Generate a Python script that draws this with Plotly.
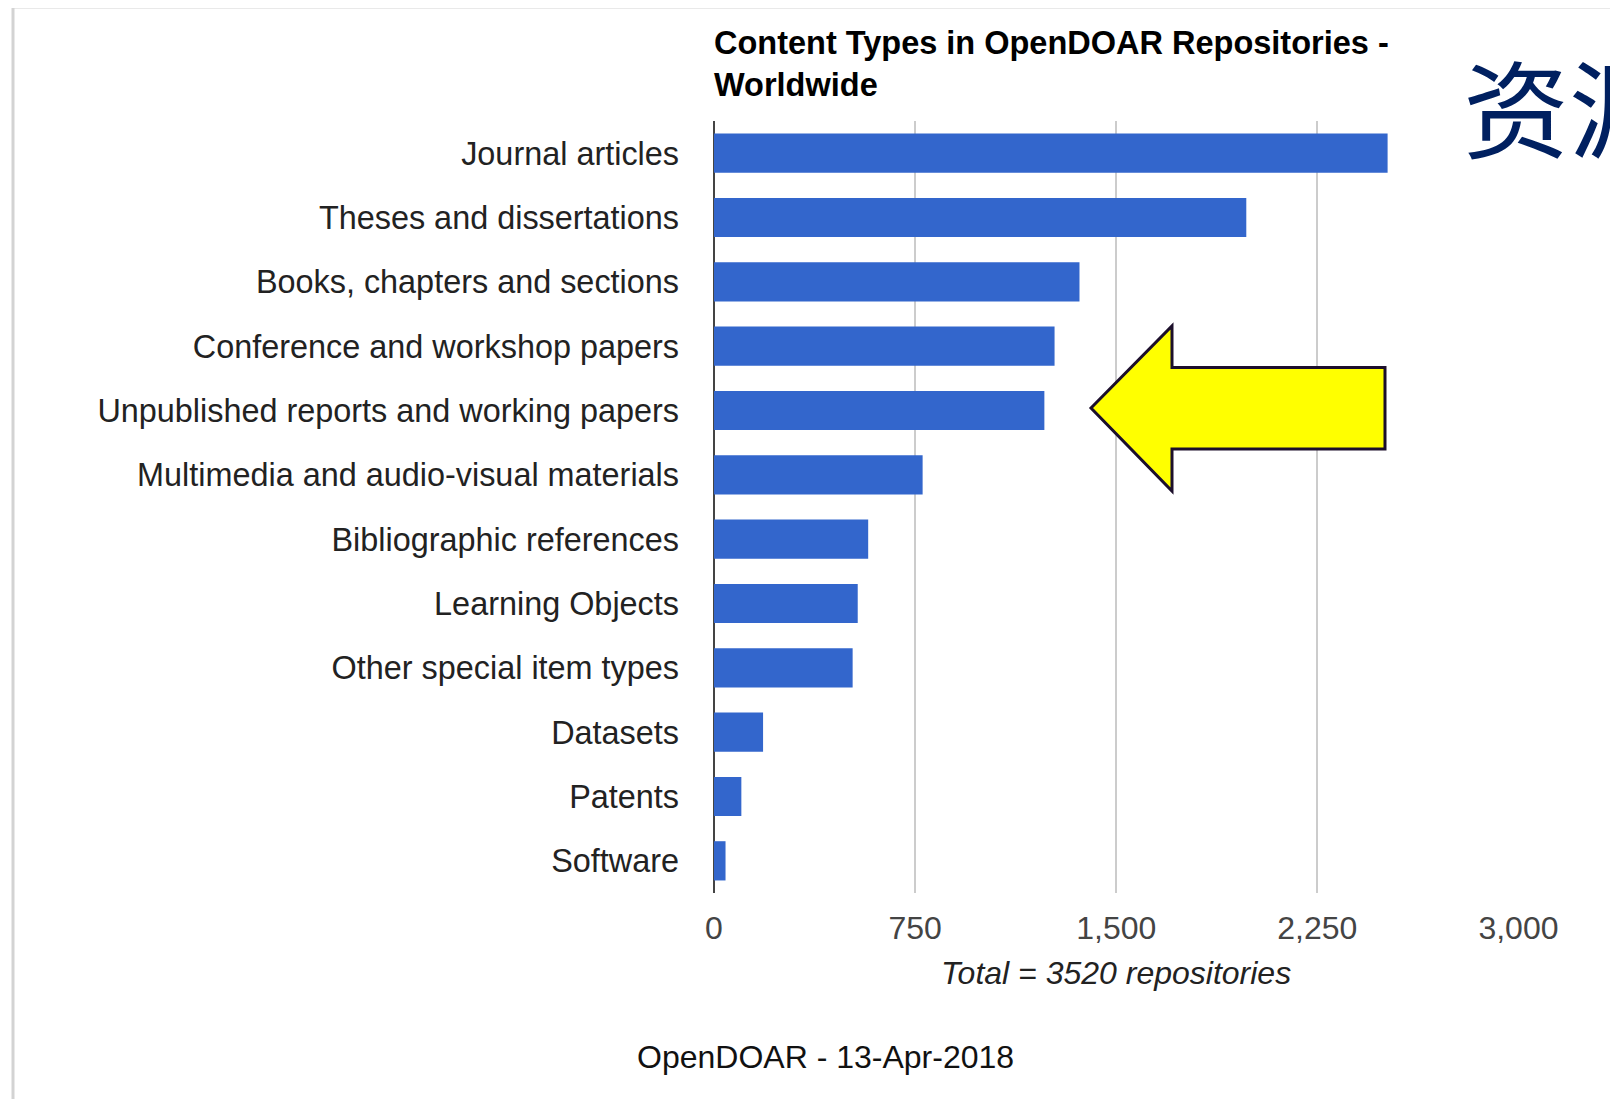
import plotly.graph_objects as go

categories = [
    "Journal articles",
    "Theses and dissertations",
    "Books, chapters and sections",
    "Conference and workshop papers",
    "Unpublished reports and working papers",
    "Multimedia and audio-visual materials",
    "Bibliographic references",
    "Learning Objects",
    "Other special item types",
    "Datasets",
    "Patents",
    "Software",
]
counts = [2512, 1985, 1363, 1270, 1232, 778, 575, 536, 517, 183, 102, 43]
tick_values = [0, 750, 1500, 2250, 3000]

title_text = "Content Types in OpenDOAR Repositories -<br>Worldwide"
axis_title_text = "Total = 3520 repositories"
footer_text = "OpenDOAR - 13-Apr-2018"
side_text = "资源"

OFF = 8  # default page body margin
SW, SH = 1618, 1099
W, H = SW - OFF, SH - OFF
# plot area in screen pixels: x 713.5..1519, y 121..893
L, R, T, B = 714 - OFF, SW - 1519, 121 - OFF, SH - 893
PW, PH = W - L - R, H - T - B


def px(x, y):
    """screen pixel -> paper coords"""
    return (x - OFF - L) / PW, (H - B - (y - OFF)) / PH


FONT = "Arial, Liberation Sans, sans-serif"

fig = go.Figure()
fig.add_trace(go.Bar(
    y=categories, x=counts, orientation="h",
    marker=dict(color="#3366cc", line=dict(width=0)),
    hoverinfo="skip",
))

fig.update_layout(
    width=W, height=H,
    margin=dict(l=L, r=R, t=T, b=B, pad=0),
    paper_bgcolor="white", plot_bgcolor="white",
    bargap=0.39, showlegend=False,
    font=dict(family=FONT, size=32, color="#333"),
    xaxis=dict(
        range=[0, 3002], tickvals=tick_values, tickformat=",d",
        showgrid=True, gridcolor="#cccccc", gridwidth=2,
        zeroline=True, zerolinecolor="#444", zerolinewidth=2,
        showline=False, ticks="", ticklabelstandoff=13,
        tickfont=dict(size=32, color="#444"),
    ),
    yaxis=dict(
        autorange="reversed", showgrid=False, zeroline=False,
        showline=False, ticks="", ticklabelstandoff=34,
        tickfont=dict(size=32.4, color="#222"),
    ),
)

annotations = []
tx, ty = px(712, 64)
annotations.append(dict(text="<b>" + title_text + "</b>", x=tx, y=ty, xref="paper", yref="paper",
                        xanchor="left", yanchor="middle", align="left", showarrow=False,
                        font=dict(size=32.5, color="#000", family=FONT)))
ax_, ay_ = px(1116, 973)
annotations.append(dict(text="<i>" + axis_title_text + "</i>", x=ax_, y=ay_, xref="paper", yref="paper",
                        xanchor="center", yanchor="middle", showarrow=False,
                        font=dict(size=32, color="#222", family=FONT)))
fx, fy = px(825, 1057)
annotations.append(dict(text=footer_text, x=fx, y=fy, xref="paper", yref="paper",
                        xanchor="center", yanchor="middle", showarrow=False,
                        font=dict(size=32, color="#111", family=FONT)))
sx, sy = px(1461, 104)
annotations.append(dict(text=side_text, x=sx, y=sy, xref="paper", yref="paper",
                        xanchor="left", yanchor="middle", showarrow=False,
                        font=dict(size=106, color="#002060", family="Noto Sans CJK SC")))
fig.update_layout(annotations=annotations)

# Frame lines (top and left)
x0, y0 = px(13, 7)
x1, _ = px(SW + 5, 7)
_, y1 = px(13, SH + 5)
shapes = [
    dict(type="line", xref="paper", yref="paper", x0=x0, y0=y0, x1=x1, y1=y0,
         line=dict(color="#d3d3d3", width=3), layer="above"),
    dict(type="line", xref="paper", yref="paper", x0=x0, y0=y0, x1=x0, y1=y1,
         line=dict(color="#d3d3d3", width=3), layer="above"),
]
# Yellow arrow
arrow_pts = [(1091, 408), (1172, 326), (1172, 367.5), (1385, 367.5),
             (1385, 449), (1172, 449), (1172, 491)]
path = ""
for i, (x, y) in enumerate(arrow_pts):
    a, b = px(x, y)
    path += ("M" if i == 0 else "L") + f"{a:.5f},{b:.5f}"
path += "Z"
shapes.append(dict(type="path", xref="paper", yref="paper", path=path,
                   fillcolor="#ffff00", line=dict(color="#1c0f2b", width=3), layer="above"))
fig.update_layout(shapes=shapes)

fig.write_html("out.html")
